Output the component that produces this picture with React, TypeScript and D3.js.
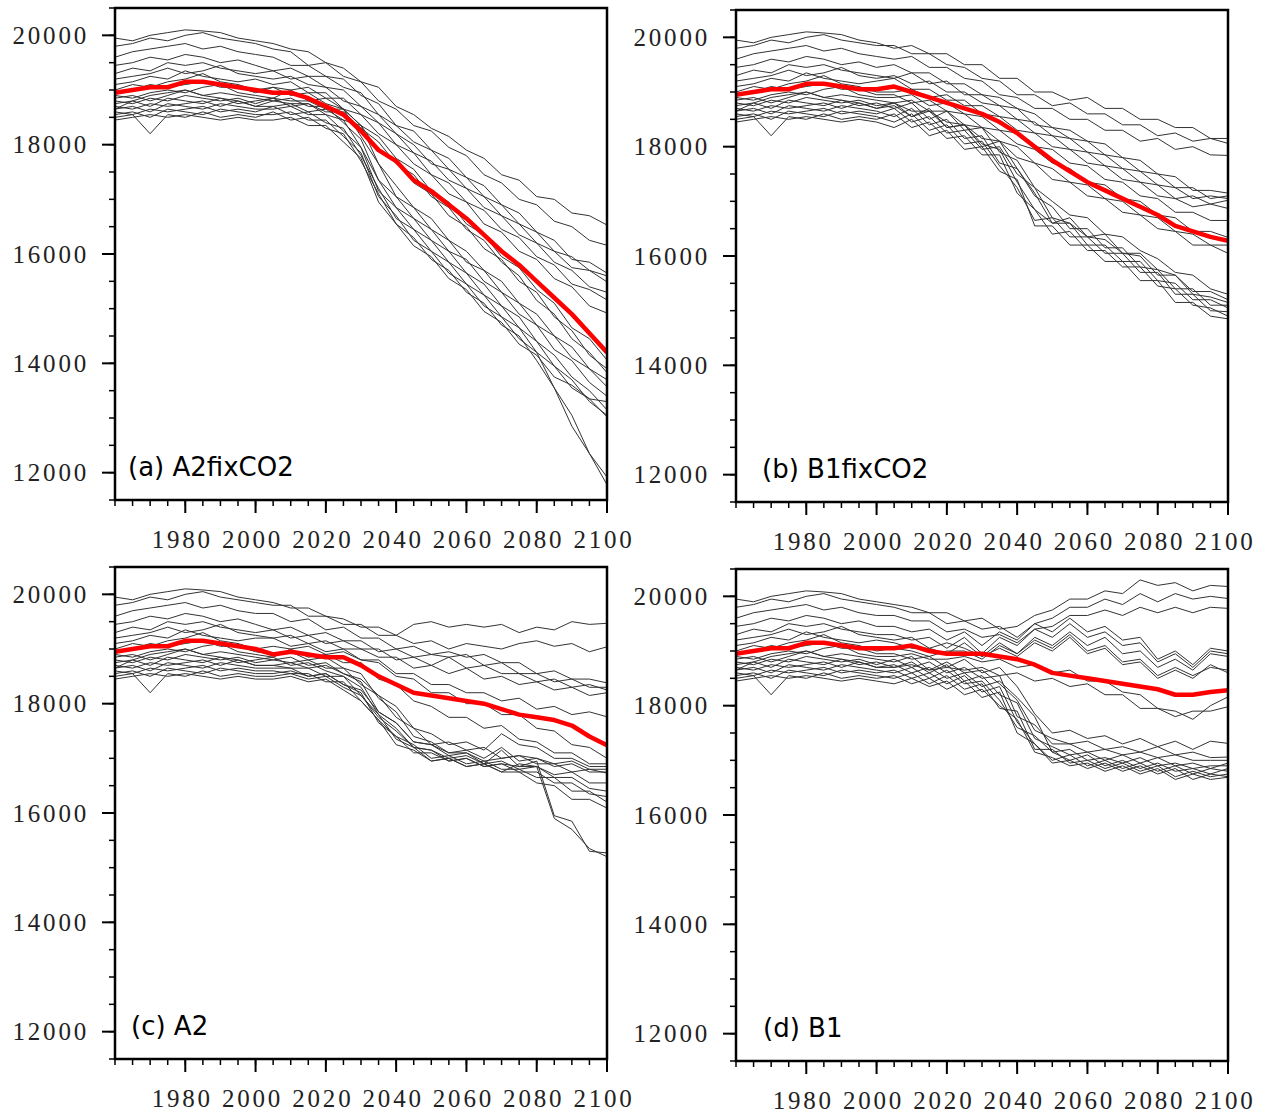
import React from 'react';
import * as d3 from 'd3';

// years sampled every 5 years
const YEARS = [1960, 1965, 1970, 1975, 1980, 1985, 1990, 1995, 2000, 2005, 2010, 2015, 2020, 2025,
  2030, 2035, 2040, 2045, 2050, 2055, 2060, 2065, 2070, 2075, 2080, 2085, 2090, 2095, 2100];

const X_TICKS = [1980, 2000, 2020, 2040, 2060, 2080, 2100];
const Y_TICKS = [12000, 14000, 16000, 18000, 20000];

// 20th century part, shared by the 20 members (1960..2000)
const HIST = [
  [19950, 19900, 20000, 20050, 20100, 20080, 20050, 19950, 19900],
  [19800, 19850, 19950, 19900, 20000, 20050, 19950, 19900, 19850],
  [19600, 19700, 19750, 19800, 19850, 19750, 19800, 19700, 19650],
  [19450, 19500, 19600, 19550, 19650, 19600, 19500, 19550, 19450],
  [19300, 19400, 19350, 19500, 19450, 19500, 19400, 19350, 19300],
  [19200, 19250, 19300, 19400, 19300, 19350, 19450, 19300, 19250],
  [19100, 19150, 19250, 19200, 19350, 19250, 19200, 19150, 19200],
  [19000, 19100, 19050, 19150, 19200, 19300, 19150, 19100, 19000],
  [18950, 19000, 19100, 19050, 19100, 19150, 19050, 19050, 18950],
  [18900, 18850, 18950, 19000, 18950, 19050, 19100, 18950, 18900],
  [18850, 18900, 18800, 18900, 19000, 18900, 18950, 18900, 18850],
  [18800, 18750, 18850, 18800, 18900, 18850, 18800, 18850, 18750],
  [18750, 18800, 18700, 18850, 18800, 18750, 18850, 18750, 18800],
  [18700, 18650, 18750, 18700, 18750, 18800, 18700, 18800, 18700],
  [18650, 18700, 18600, 18750, 18700, 18650, 18750, 18700, 18650],
  [18600, 18550, 18650, 18600, 18650, 18700, 18600, 18650, 18600],
  [18550, 18600, 18500, 18650, 18600, 18550, 18650, 18600, 18550],
  [18500, 18550, 18200, 18550, 18500, 18600, 18500, 18550, 18500],
  [18450, 18500, 18550, 18500, 18550, 18500, 18450, 18500, 18450],
  [18650, 18800, 18900, 18950, 19000, 18900, 18850, 18800, 18700],
];

// scenario part per member (2005..2100)
const SCEN_A2FIX = [
  [19850, 19750, 19700, 19500, 19400, 19150, 19050, 18700, 18550, 18300, 18150, 17900, 17750, 17450, 17350, 17050, 17000, 16750, 16700, 16530],
  [19750, 19700, 19450, 19500, 19250, 19150, 18800, 18650, 18350, 18250, 17950, 17800, 17450, 17300, 17000, 16900, 16600, 16500, 16250, 16160],
  [19600, 19450, 19450, 19250, 19200, 18900, 18750, 18350, 18250, 17900, 17750, 17400, 17250, 16900, 16750, 16400, 16250, 15900, 15850, 15650],
  [19350, 19400, 19250, 19250, 19050, 18950, 18550, 18350, 18050, 17900, 17550, 17400, 17050, 16900, 16550, 16400, 16050, 15950, 15700, 15600],
  [19350, 19200, 19250, 19050, 19000, 18700, 18550, 18200, 18000, 17650, 17550, 17200, 17050, 16700, 16550, 16200, 16050, 15750, 15700, 15490],
  [19200, 19250, 19100, 19050, 18800, 18700, 18400, 18200, 17850, 17700, 17350, 17200, 16850, 16700, 16350, 16200, 15850, 15700, 15400, 15300],
  [19100, 19150, 18950, 18950, 18650, 18350, 17650, 17250, 16850, 16650, 16250, 16050, 15700, 15500, 15100, 14900, 14500, 14300, 13900, 13700],
  [19050, 19000, 19050, 18850, 18850, 18550, 18400, 18000, 17850, 17450, 17300, 16950, 16800, 16450, 16300, 15950, 15800, 15450, 15350, 15160],
  [19050, 18900, 18950, 18750, 18650, 18150, 17650, 17050, 16850, 16450, 16250, 15850, 15700, 15300, 15100, 14700, 14500, 14100, 13900, 13570],
  [18850, 19000, 18800, 18850, 18650, 18550, 18200, 18000, 17650, 17450, 17100, 16950, 16550, 16400, 16050, 15900, 15550, 15400, 15050, 14920],
  [18800, 18850, 18700, 18700, 18400, 18100, 17350, 17050, 16650, 16450, 16050, 15900, 15500, 15300, 14900, 14700, 14250, 14050, 13650, 13400],
  [18850, 18800, 18800, 18650, 18650, 18350, 18150, 17750, 17550, 17150, 16950, 16550, 16350, 15950, 15750, 15350, 15100, 14650, 14450, 14060],
  [18850, 18700, 18750, 18550, 18450, 17950, 17350, 16850, 16650, 16250, 16050, 15650, 15450, 15050, 14850, 14400, 14150, 13750, 13500, 13150],
  [18700, 18750, 18600, 18650, 18450, 18350, 17900, 17700, 17300, 17100, 16700, 16500, 16100, 15900, 15500, 15300, 14850, 14600, 14150, 13900],
  [18650, 18700, 18550, 18550, 18250, 17950, 17150, 16850, 16450, 16250, 15850, 15650, 15250, 15050, 14650, 14400, 13950, 13700, 13300, 13050],
  [18700, 18550, 18600, 18400, 18300, 17800, 17200, 16650, 16450, 16050, 15850, 15450, 15250, 14850, 14650, 14200, 13950, 13550, 13350, 13020],
  [18550, 18600, 18450, 18450, 18150, 17850, 17050, 16700, 16250, 16050, 15650, 15450, 15050, 14850, 14450, 14200, 13550, 13050, 12350, 11920],
  [18600, 18450, 18500, 18300, 18200, 17700, 17100, 16550, 16300, 15900, 15700, 15300, 15100, 14700, 14500, 14050, 13550, 12850, 12350, 11780],
  [18450, 18500, 18350, 18350, 18050, 17750, 16950, 16550, 16150, 15950, 15550, 15350, 14950, 14750, 14350, 14150, 13750, 13600, 13350, 13300],
  [18800, 18750, 18750, 18600, 18600, 18300, 18050, 17650, 17450, 17050, 16850, 16450, 16250, 15850, 15600, 15150, 14900, 14450, 14200, 13830],
];

const SCEN_B1FIX = [
  [19800, 19850, 19700, 19700, 19500, 19500, 19250, 19250, 19000, 19000, 18850, 18900, 18700, 18700, 18500, 18500, 18350, 18350, 18150, 18150],
  [19850, 19700, 19700, 19500, 19450, 19250, 19200, 18950, 18950, 18750, 18800, 18600, 18600, 18400, 18400, 18200, 18250, 18100, 18150, 18060],
  [19600, 19650, 19450, 19450, 19250, 19200, 18950, 18900, 18700, 18700, 18500, 18500, 18300, 18300, 18100, 18150, 17950, 18000, 17850, 17840],
  [19500, 19350, 19350, 19150, 19150, 18950, 18900, 18700, 18600, 18350, 18300, 18100, 18050, 17800, 17750, 17500, 17450, 17200, 17200, 17150],
  [19250, 19350, 19150, 19200, 18950, 18950, 18750, 18700, 18400, 18350, 18150, 18100, 17850, 17800, 17550, 17500, 17250, 17250, 17050, 17100],
  [19300, 19150, 19200, 19000, 19000, 18800, 18750, 18500, 18450, 18200, 18150, 17900, 17850, 17600, 17550, 17300, 17250, 17050, 17100, 17050],
  [19250, 19050, 19050, 18850, 18850, 18600, 18550, 18300, 18250, 18000, 17950, 17700, 17650, 17400, 17350, 17100, 17050, 16900, 16950, 16870],
  [19000, 19050, 18900, 18950, 18750, 18750, 18550, 18500, 18250, 18200, 17950, 17900, 17650, 17600, 17350, 17300, 17050, 17100, 16950, 17020],
  [18950, 18800, 18850, 18650, 18600, 18350, 18300, 18050, 17950, 17700, 17600, 17350, 17300, 17050, 17000, 16750, 16700, 16450, 16450, 16340],
  [18900, 18950, 18750, 18800, 18600, 18550, 18300, 18250, 18000, 17950, 17700, 17650, 17400, 17350, 17100, 17050, 16800, 16800, 16650, 16650],
  [18800, 18850, 18650, 18650, 18400, 18350, 18100, 18000, 17700, 17600, 17350, 17300, 17050, 17000, 16750, 16700, 16450, 16400, 16200, 16200],
  [18800, 18650, 18650, 18450, 18400, 18150, 18100, 17800, 17700, 17400, 17350, 17100, 17050, 16800, 16750, 16500, 16450, 16200, 16200, 16050],
  [18700, 18800, 18500, 18650, 18300, 18350, 17900, 17750, 17250, 17000, 16750, 16700, 16400, 16350, 16100, 15950, 15700, 15650, 15400, 15300],
  [18750, 18550, 18700, 18350, 18400, 18050, 17950, 17350, 16850, 16600, 16600, 16350, 16300, 16050, 16050, 15750, 15650, 15350, 15350, 15200],
  [18550, 18700, 18400, 18500, 18150, 18200, 17700, 17600, 17100, 16900, 16500, 16500, 16150, 16150, 15800, 15750, 15400, 15400, 15100, 15100],
  [18700, 18450, 18550, 18250, 18300, 17950, 18000, 17500, 17250, 16700, 16600, 16200, 16200, 15900, 15900, 15550, 15500, 15200, 15200, 15050],
  [18450, 18600, 18300, 18400, 18050, 18100, 17650, 17250, 16650, 16700, 16350, 16350, 16050, 16050, 15700, 15700, 15300, 15300, 15000, 14980],
  [18600, 18350, 18450, 18150, 18200, 17850, 17850, 17150, 16850, 16400, 16450, 16100, 16100, 15800, 15800, 15450, 15400, 15100, 15050, 14900],
  [18350, 18500, 18200, 18300, 17950, 18000, 17550, 17400, 16550, 16550, 16200, 16200, 15900, 15900, 15550, 15550, 15150, 15150, 14900, 14850],
  [18800, 18550, 18650, 18350, 18400, 18000, 18100, 17600, 17150, 16600, 16700, 16350, 16400, 16050, 16000, 15650, 15650, 15300, 15250, 15150],
];

const SCEN_A2 = [
  [19850, 19750, 19750, 19600, 19550, 19400, 19400, 19250, 19450, 19500, 19400, 19450, 19400, 19450, 19300, 19400, 19350, 19500, 19450, 19470],
  [19800, 19800, 19600, 19600, 19450, 19450, 19250, 19250, 19100, 19150, 19000, 19100, 19050, 19000, 19100, 19150, 19050, 19100, 18950, 19040],
  [19650, 19500, 19550, 19350, 19400, 19200, 19200, 19000, 19050, 18900, 18950, 18850, 18900, 18750, 18750, 18550, 18600, 18450, 18450, 18380],
  [19350, 19400, 19250, 19300, 19150, 19150, 18950, 19000, 18850, 18900, 18850, 18900, 18700, 18750, 18550, 18550, 18400, 18450, 18300, 18300],
  [19350, 19200, 19250, 19100, 19150, 19000, 19000, 18800, 18850, 18700, 18850, 18650, 18700, 18550, 18550, 18400, 18450, 18300, 18350, 18250],
  [19200, 19250, 19100, 19150, 19000, 19000, 18850, 18850, 18650, 18700, 18550, 18650, 18450, 18500, 18350, 18400, 18250, 18300, 18150, 18200],
  [19200, 19050, 19100, 18950, 19000, 18800, 18750, 18500, 18450, 18200, 18200, 18000, 18000, 17800, 17800, 17550, 17500, 17250, 17200, 17000],
  [19050, 19000, 19050, 18900, 18950, 18800, 18800, 18550, 18550, 18350, 18350, 18200, 18200, 18050, 18100, 17900, 17950, 17800, 17850, 17760],
  [18900, 18950, 18800, 18850, 18650, 18550, 18100, 17850, 17400, 17300, 17100, 17150, 17000, 17200, 16950, 17000, 16850, 16900, 16750, 16750],
  [18850, 19000, 18850, 18900, 18750, 18750, 18450, 18350, 18050, 17950, 17750, 17750, 17550, 17600, 17350, 17300, 17100, 17100, 16900, 16900],
  [18800, 18850, 18700, 18750, 18550, 18400, 17850, 17650, 17300, 17250, 17100, 17100, 16900, 16950, 16800, 16850, 16700, 16750, 16550, 16550],
  [18800, 18750, 18800, 18650, 18650, 18350, 18150, 17750, 17550, 17250, 17300, 17150, 17200, 17000, 17050, 17000, 16900, 16950, 16800, 16800],
  [18850, 18700, 18750, 18600, 18500, 18300, 17800, 17550, 17200, 17150, 16950, 17000, 16850, 16900, 16750, 16750, 16550, 16550, 16350, 16300],
  [18700, 18650, 18650, 18500, 18500, 18150, 17800, 17350, 17200, 16950, 17000, 16850, 16900, 16750, 16750, 16550, 16500, 16250, 16250, 16090],
  [18650, 18650, 18500, 18550, 18350, 18200, 17650, 17400, 17100, 17100, 16950, 17000, 16850, 16900, 16850, 16950, 15950, 15850, 15300, 15270],
  [18600, 18550, 18550, 18400, 18400, 18050, 17700, 17250, 17150, 16950, 17000, 16850, 16900, 16750, 16900, 16850, 15900, 15700, 15350, 15200],
  [18550, 18600, 18500, 18550, 18350, 18250, 17850, 17650, 17300, 17250, 17050, 17100, 16950, 17000, 17050, 16900, 16900, 16750, 16800, 16730],
  [18500, 18550, 18450, 18500, 18300, 18150, 17750, 17500, 17200, 17150, 17000, 17050, 16900, 17150, 16850, 16850, 16650, 16650, 16450, 16400],
  [18450, 18500, 18400, 18450, 18250, 18050, 17700, 17400, 17250, 17000, 17050, 16900, 16950, 16800, 16800, 16650, 16650, 16400, 16400, 16200],
  [18700, 18750, 18650, 18700, 18550, 18450, 18150, 17950, 17550, 17450, 17250, 17300, 17150, 17450, 17250, 17200, 17000, 17000, 16850, 16850],
];

const SCEN_B1 = [
  [19850, 19800, 19700, 19700, 19550, 19600, 19400, 19450, 19650, 19750, 19950, 19950, 20100, 20050, 20300, 20200, 20250, 20100, 20200, 20180],
  [19800, 19700, 19700, 19500, 19550, 19400, 19450, 19250, 19500, 19600, 19800, 19800, 19950, 19850, 20050, 19900, 20050, 19950, 20000, 19960],
  [19650, 19550, 19550, 19350, 19400, 19250, 19300, 19150, 19400, 19450, 19650, 19650, 19750, 19650, 19800, 19700, 19800, 19700, 19800, 19780],
  [19450, 19350, 19400, 19200, 19350, 19100, 19350, 19200, 19500, 19350, 19600, 19350, 19450, 19200, 19250, 18850, 19000, 18750, 19050, 19000],
  [19300, 19200, 19250, 19050, 19250, 18950, 19250, 19100, 19400, 19250, 19500, 19250, 19350, 19100, 19150, 18800, 18950, 18700, 19000, 18950],
  [19200, 19250, 19050, 19150, 19050, 18900, 19150, 18950, 19250, 19100, 19350, 19100, 19250, 18950, 19000, 18700, 18850, 18650, 18950, 18900],
  [19150, 19050, 19050, 18950, 19150, 18900, 19050, 18900, 19150, 19000, 19250, 18950, 19050, 18750, 18800, 18500, 18650, 18500, 18750, 18600],
  [19050, 19000, 18900, 19000, 19000, 18850, 19100, 18950, 19200, 19050, 19300, 19000, 19100, 18800, 18850, 18550, 18700, 18550, 18700, 18650],
  [18950, 18850, 18900, 18700, 18850, 18600, 18700, 18350, 17850, 17500, 17550, 17400, 17450, 17300, 17400, 17250, 17350, 17200, 17350, 17310],
  [18900, 18950, 18850, 18850, 18900, 18800, 18850, 18700, 18750, 18600, 18650, 18450, 18450, 18250, 18200, 17950, 17900, 17750, 18000, 18160],
  [18800, 18900, 18650, 18800, 18600, 18650, 18400, 18100, 17550, 17400, 17300, 17350, 17200, 17250, 17150, 17250, 17100, 17150, 17050, 17060],
  [18850, 18700, 18800, 18600, 18700, 18500, 18550, 17800, 17650, 17300, 17300, 17150, 17200, 17100, 17150, 17050, 17100, 17000, 17000, 17000],
  [18700, 18800, 18600, 18750, 18450, 18550, 18200, 18050, 17400, 17250, 17100, 17150, 17000, 17100, 16950, 17050, 16900, 16950, 16850, 16950],
  [18750, 18600, 18700, 18500, 18600, 18350, 18450, 18150, 17800, 17150, 17200, 17000, 17050, 16950, 17050, 16900, 16950, 16850, 16900, 16900],
  [18600, 18700, 18500, 18650, 18400, 18450, 18100, 17600, 17450, 17150, 17000, 17100, 16900, 17000, 16850, 16950, 16800, 16850, 16750, 16850],
  [18650, 18500, 18600, 18400, 18550, 18250, 18350, 17700, 17300, 17000, 17100, 16900, 17000, 16850, 16950, 16800, 16900, 16750, 16850, 16800],
  [18500, 18600, 18400, 18550, 18300, 18400, 17950, 17900, 17200, 17200, 16950, 17000, 16850, 16950, 16800, 16900, 16700, 16800, 16700, 16750],
  [18550, 18400, 18500, 18300, 18450, 18150, 18250, 17500, 17300, 16950, 17000, 16850, 16950, 16800, 16900, 16750, 16850, 16650, 16750, 16700],
  [18400, 18500, 18350, 18450, 18200, 18300, 18000, 17750, 17150, 17050, 16900, 16950, 16800, 16900, 16750, 16850, 16650, 16750, 16650, 16690],
  [18700, 18750, 18650, 18700, 18650, 18700, 18550, 18600, 18450, 18500, 18350, 18400, 18200, 18200, 17950, 17950, 17800, 17900, 17900, 17980],
];

// ensemble means (red), 1960..2100
const MEAN_A2FIX = [18950, 19000, 19050, 19050, 19150, 19150, 19100, 19050, 19000, 18950, 18950, 18850, 18700, 18550,
  18250, 17900, 17700, 17350, 17150, 16900, 16650, 16350, 16050, 15800, 15500, 15200, 14900, 14550, 14200];
const MEAN_B1FIX = [18950, 19000, 19050, 19050, 19150, 19150, 19100, 19050, 19050, 19100, 19000, 18900, 18800, 18700,
  18600, 18450, 18250, 18000, 17750, 17550, 17350, 17200, 17050, 16900, 16750, 16550, 16450, 16350, 16280];
const MEAN_A2 = [18950, 19000, 19050, 19050, 19150, 19150, 19100, 19050, 19000, 18900, 18950, 18900, 18850, 18850,
  18700, 18500, 18350, 18200, 18150, 18100, 18050, 18000, 17900, 17800, 17750, 17700, 17600, 17400, 17240];
const MEAN_B1 = [18950, 19000, 19050, 19050, 19150, 19150, 19100, 19050, 19050, 19050, 19100, 19000, 18950, 18950,
  18950, 18900, 18850, 18750, 18600, 18550, 18500, 18450, 18400, 18350, 18300, 18200, 18200, 18250, 18280];

const PANELS = [
  { label: '(a) A2fixCO2', left: 115, top: 8, labelX: 13, scen: SCEN_A2FIX, mean: MEAN_A2FIX },
  { label: '(b) B1fixCO2', left: 736, top: 10, labelX: 26, scen: SCEN_B1FIX, mean: MEAN_B1FIX },
  { label: '(c) A2', left: 115, top: 567, labelX: 16, scen: SCEN_A2, mean: MEAN_A2 },
  { label: '(d) B1', left: 736, top: 569, labelX: 27, scen: SCEN_B1, mean: MEAN_B1 },
];

const W = 492;
const H = 492;
const tickFont = '"Liberation Serif", serif';

function Panel({ p, idx }: { p: any; idx: number }) {
  const x = d3.scaleLinear().domain([1960, 2100]).range([0, W]);
  const y = d3.scaleLinear().domain([11500, 20500]).range([H, 0]);
  const line = d3.line<number>()
    .x((_, i) => x(YEARS[i]))
    .y(d => y(d));

  const members = HIST.map((h, i) => h.concat(p.scen[i]));
  const minorX = d3.range(1960, 2101, 5);
  const minorY = d3.range(11500, 20501, 500);
  const clipId = 'clip' + idx;

  return (
    <g transform={`translate(${p.left},${p.top})`}>
      <defs>
        <clipPath id={clipId}>
          <rect x={0} y={0} width={W} height={H} />
        </clipPath>
      </defs>
      <g clipPath={`url(#${clipId})`}>
        {members.map((m, i) => (
          <path key={i} d={line(m) || ''} fill="none" stroke="#333" strokeWidth={1} strokeLinejoin="round" />
        ))}
        <path d={line(p.mean) || ''} fill="none" stroke="#ff0000" strokeWidth={4.5} strokeLinejoin="round" />
      </g>

      {/* minor ticks */}
      {minorX.map(t => (
        <line key={'mx' + t} x1={x(t)} x2={x(t)} y1={H} y2={H + 6} stroke="#000" strokeWidth={1.5} />
      ))}
      {minorY.map(t => (
        <line key={'my' + t} x1={-6} x2={0} y1={y(t)} y2={y(t)} stroke="#000" strokeWidth={1.5} />
      ))}
      {/* major ticks + labels */}
      {X_TICKS.map(t => (
        <g key={'X' + t}>
          <line x1={x(t)} x2={x(t)} y1={H} y2={H + 13} stroke="#000" strokeWidth={2} />
          <text x={x(t) - 3} y={H + 48} textAnchor="middle" fontFamily={tickFont} fontSize={25}
            letterSpacing={2.8} fill="#222">{t}</text>
        </g>
      ))}
      {Y_TICKS.map(t => (
        <g key={'Y' + t}>
          <line x1={-13} x2={0} y1={y(t)} y2={y(t)} stroke="#000" strokeWidth={2} />
          <text x={-26} y={y(t) + 8.5} textAnchor="end" fontFamily={tickFont} fontSize={25}
            letterSpacing={2.8} fill="#222">{t}</text>
        </g>
      ))}

      <rect x={0} y={0} width={W} height={H} fill="none" stroke="#000" strokeWidth={2.5} />
      <text x={p.labelX} y={H - 24} fontFamily='"DejaVu Sans", sans-serif' fontSize={26} fill="#000">{p.label}</text>
    </g>
  );
}

export default function App() {
  return (
    <svg width={1273} height={1114} style={{ position: 'absolute', left: 0, top: 0, background: '#fff' }}>
      {PANELS.map((p, i) => <Panel key={i} p={p} idx={i} />)}
    </svg>
  );
}
